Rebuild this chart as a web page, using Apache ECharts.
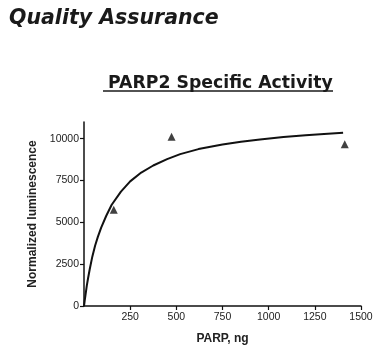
<!DOCTYPE html>
<html><head><meta charset="utf-8">
<script src="https://cdn.jsdelivr.net/npm/echarts@6/dist/echarts.min.js"></script>
<style>html,body{margin:0;padding:0;background:#fff}#c{width:385px;height:360px}</style>
</head><body><div id="c"></div>
<script>
const pageTitle = "Quality Assurance";
const chartTitle = "PARP2 Specific Activity";
const xAxisName = "PARP, ng";
const yAxisName = "Normalized luminescence";
const xTicks = [250, 500, 750, 1000, 1250, 1500];
const yTicks = [0, 2500, 5000, 7500, 10000];
// measured points (PARP ng, luminescence)
const pointX = [161, 474, 1412];
const pointY = [5750, 10125, 9670];
// fitted curve
const curveX = [0, 4, 8, 15, 22, 31, 45, 60, 75, 93, 120, 150, 200, 250, 310, 375, 450, 521, 620, 750, 850, 953, 1080, 1200, 1300, 1403];
const curveY = [0, 340, 650, 1200, 1660, 2200, 2950, 3600, 4130, 4690, 5380, 6050, 6840, 7450, 7980, 8400, 8780, 9080, 9380, 9650, 9820, 9960, 10100, 10210, 10280, 10350];

const chart = echarts.init(document.getElementById('c'), null, {renderer: 'canvas'});
const axisLine = {lineStyle: {color: '#111', width: 1.5}};
const plain = v => String(v);
chart.setOption({
  animation: false,
  backgroundColor: '#fff',
  title: [
    {text: pageTitle, left: 4, top: 4,
     textStyle: {fontFamily: 'DejaVu Sans', fontWeight: 'bold', fontStyle: 'italic', fontSize: 20.5, color: '#1a1a1a'}},
    {text: chartTitle, left: 103, top: 70,
     textStyle: {fontFamily: 'DejaVu Sans', fontWeight: 'bold', fontSize: 17.3, color: '#1a1a1a'}}
  ],
  graphic: [{type: 'line', shape: {x1: 103, y1: 91, x2: 333, y2: 91}, style: {stroke: '#1a1a1a', lineWidth: 1.5}}],
  grid: {left: 84, right: 24, top: 122, bottom: 54},
  xAxis: {
    type: 'value', min: 0, max: 1500,
    name: xAxisName, nameLocation: 'middle', nameGap: 27,
    nameTextStyle: {fontFamily: 'Liberation Sans', fontWeight: 'bold', fontSize: 12, color: '#222'},
    axisLine: axisLine,
    axisTick: {show: true, length: 4, lineStyle: {color: '#111', width: 1.2}, customValues: xTicks},
    axisLabel: {customValues: xTicks, formatter: plain, margin: 6, fontFamily: 'Liberation Sans', fontSize: 10.5, color: '#222'},
    splitLine: {show: false}
  },
  yAxis: {
    type: 'value', min: 0, max: 11000,
    name: yAxisName, nameLocation: 'middle', nameGap: 44, nameRotate: 90,
    nameTextStyle: {fontFamily: 'Liberation Sans', fontWeight: 'bold', fontSize: 12, color: '#222'},
    axisLine: Object.assign({show: true}, axisLine),
    axisTick: {show: true, length: 4, lineStyle: {color: '#111', width: 1.2}, customValues: yTicks},
    axisLabel: {customValues: yTicks, formatter: plain, margin: 5, fontFamily: 'Liberation Sans', fontSize: 10.5, color: '#222'},
    splitLine: {show: false}
  },
  series: [
    {type: 'line', data: curveX.map((x, i) => [x, curveY[i]]), smooth: false, showSymbol: false,
     lineStyle: {color: '#111', width: 2, join: 'round'}},
    {type: 'scatter', data: pointX.map((x, i) => [x, pointY[i]]), symbol: 'triangle', symbolSize: 8,
     itemStyle: {color: '#111'}}
  ]
});
</script></body></html>
